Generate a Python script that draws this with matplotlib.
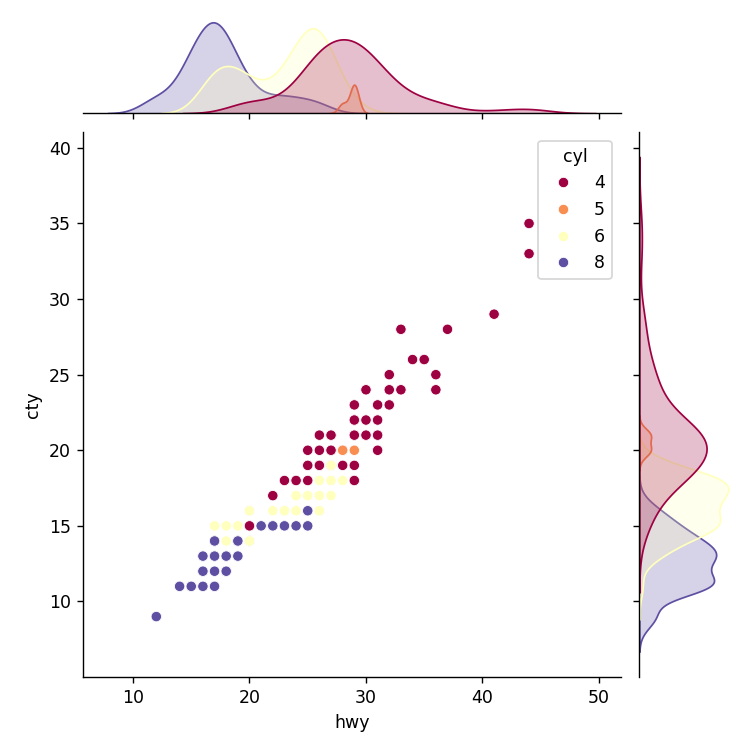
import numpy as np
import pandas as pd
import seaborn as sns
import matplotlib
matplotlib.use('Agg')
import matplotlib.pyplot as plt

# --------------------------------------------------
# unique (hwy, cty) points, with how many cars sit on each
# rows are kept in drawing order, so the colour seen on top comes last
#
hwy = [29,
       26, 27, 25, 20, 27, 28,
       20, 23, 26,
       26, 26, 27, 25, 25, 24, 29, 26, 24, 22, 17, 22, 21, 23, 19, 18, 17,
       17, 19, 25, 24, 28, 22, 20, 27, 26, 25, 17, 20, 27, 28, 20, 18,
       29, 29, 31, 30, 30, 24, 33, 32, 32, 29, 34, 36, 36, 31, 26, 29,
       27, 31, 32, 25, 25, 26, 23, 26, 25, 20, 27, 31, 30, 33, 35, 37,
       22, 29, 44, 44, 41, 28,
       12, 14, 15, 16, 17, 16, 17, 18, 16, 17, 18, 19, 17, 19, 21, 22,
       23, 24, 25, 25,
       28, 29]
cty = [21,
       18, 18, 16, 16, 19, 20,
       14, 16, 16,
       16, 18, 18, 15, 17, 15, 18, 17, 17, 16, 11, 15, 15, 16, 15, 14, 13,
       14, 13, 18, 16, 19, 17, 15, 19, 19, 19, 15, 14, 17, 18, 16, 15,
       18, 21, 20, 21, 22, 18, 28, 24, 25, 23, 26, 25, 24, 21, 19, 19,
       20, 23, 23, 18, 19, 20, 18, 21, 20, 15, 21, 22, 24, 24, 26, 28,
       17, 22, 33, 35, 29, 19,
       9, 11, 11, 11, 11, 12, 12, 12, 13, 13, 13, 13, 14, 14, 15, 15,
       15, 15, 15, 16,
       20, 20]
cyl = [5,
       4, 4, 4, 4, 4, 4,
       8, 8, 8,
       6, 6, 6, 6, 6, 6, 6, 6, 6, 6, 6, 6, 6, 6, 6, 6, 6,
       6, 6, 6, 6, 6, 6, 6, 6, 6, 6, 6, 6, 6, 6, 6, 6,
       4, 4, 4, 4, 4, 4, 4, 4, 4, 4, 4, 4, 4, 4, 4, 4,
       4, 4, 4, 4, 4, 4, 4, 4, 4, 4, 4, 4, 4, 4, 4, 4,
       4, 4, 4, 4, 4, 4,
       8, 8, 8, 8, 8, 8, 8, 8, 8, 8, 8, 8, 8, 8, 8, 8,
       8, 8, 8, 8,
       5, 5]
count = [2,
         2, 1, 1, 3, 3, 2,
         3, 1, 2,
         3, 12, 2, 2, 3, 1, 1, 3, 7, 2, 1, 1, 1, 3, 6, 1, 2,
         6, 2, 1, 2, 2, 1, 1, 1, 1, 2, 3, 1, 1, 1, 2, 1,
         2, 11, 1, 2, 1, 2, 1, 2, 1, 1, 1, 1, 1, 4, 7, 1,
         4, 1, 1, 1, 2, 1, 1, 1, 1, 2, 2, 1, 1, 1, 2, 1,
         1, 2, 1, 1, 1, 1,
         5, 2, 11, 2, 4, 2, 1, 5, 2, 9, 3, 2, 4, 4, 1, 2,
         2, 1, 1, 1,
         1, 1]

# expand to one row per car
df = pd.DataFrame({
    'hwy': np.repeat(hwy, count),
    'cty': np.repeat(cty, count),
    'cyl': np.repeat(cyl, count),
})

g = sns.jointplot(data=df, x='hwy', y='cty', hue='cyl', palette='Spectral',
                  height=6)
sns.move_legend(g.ax_joint, 'upper right')

# the marginal curves leave more room above the peaks in the picture
lo, hi = g.ax_marg_x.get_ylim()
g.ax_marg_x.set_ylim(lo, hi * 1.14)
lo, hi = g.ax_marg_y.get_xlim()
g.ax_marg_y.set_xlim(lo, hi * 1.15)

# place the three axes where they sit in the picture (pixels of a 750 px figure)
fig = g.figure
fig.set_layout_engine('none')
px = 750.0
g.ax_joint.set_position([83 / px, (px - 676.5) / px, 537.5 / px, 544.5 / px])
g.ax_marg_x.set_position([83 / px, (px - 113.3) / px, 537.5 / px, 108.9 / px])
g.ax_marg_y.set_position([639.3 / px, (px - 676.5) / px, 107.5 / px, 544.5 / px])

fig.savefig('out.png', dpi=125)
